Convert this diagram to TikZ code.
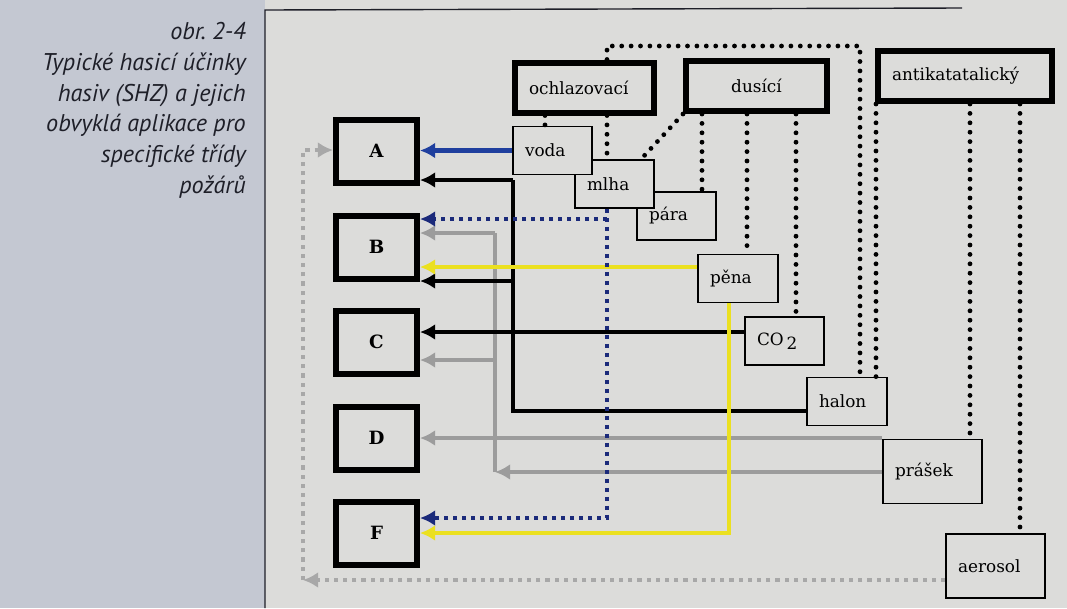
\documentclass[tikz,border=0pt]{standalone}
\usepackage{fontspec}
\setmainfont{DejaVu Serif}
\newfontfamily\capfont{PT Sans}
\usepackage{xcolor}
\usetikzlibrary{arrows.meta,positioning}
\definecolor{paper}{HTML}{DCDCDA}
\definecolor{panel}{HTML}{C4C8D2}
\definecolor{capink}{HTML}{1E1F28}
\definecolor{waterblue}{HTML}{1F3F9E}
\definecolor{mistnavy}{HTML}{1B2A7A}
\definecolor{foamyellow}{HTML}{EBE020}
\definecolor{powdergray}{HTML}{9C9C9C}
\definecolor{aerogray}{HTML}{A8A8A8}

\begin{document}
\begin{tikzpicture}[x=0.25mm,y=-0.25mm,>={Latex[length=3.8mm,width=4mm]},
  font=\fontsize{12}{14}\selectfont,
  captext/.style={font=\capfont\itshape\fontsize{17.2}{21.9}\selectfont,align=right,inner sep=0pt,text=capink},
  classbox/.style={draw,line width=1.5mm,fill=paper,minimum width=20.25mm,minimum height=15.75mm,inner sep=0pt,font=\fontsize{13}{15}\selectfont\bfseries},
  effectbox/.style={draw,line width=1.5mm,fill=paper,minimum height=12.5mm,inner ysep=0pt,inner xsep=3.5mm,align=left,text width=#1},
  agentbox/.style={draw,line width=0.4mm,fill=paper,minimum height=12mm,inner xsep=3mm,inner ysep=0pt,align=left,text width=#1},
  agentbox/.default=13.75mm,
  dots/.style={line width=1.2mm,dash pattern=on 0pt off 2.35mm,line cap=round},
  navydot/.style={mistnavy,line width=1mm,dash pattern=on 1mm off 1.25mm},
  ltdot/.style={aerogray,line width=1mm,dash pattern=on 1.05mm off 1.25mm},
  blackline/.style={line width=1.1mm},
  blueline/.style={waterblue,line width=1.2mm},
  yelline/.style={foamyellow,line width=1mm},
  grayline/.style={powdergray,line width=1mm}]
\useasboundingbox (0,0) rectangle (1067,608);
\fill[panel] (0,0) rectangle (265,608);
\fill[paper] (265,0) rectangle (1067,608);
\draw[capink,line width=0.35mm] (265,608) -- (265,10) -- (962,8);

% caption
\node[captext,anchor=north east] (cap) at (246,22) {obr.\ 2-4\\Typické hasicí účinky\\hasiv (SHZ) a jejich\\obvyklá aplikace pro\\specifické třídy\\požárů};

% fire classes
\node[classbox] (A) at (376.5,151) {A};
\node[classbox] (B) at (376.5,247) {B};
\node[classbox] (C) at (376.5,342) {C};
\node[classbox] (D) at (376.5,438) {D};
\node[classbox] (F) at (376.5,533) {F};

% effects
\node[effectbox=27.75mm] (ochl) at (584.5,87.5) {ochlazovací};
\node[effectbox=28.25mm,align=center] (dusici) at (756.5,86) {dusící};
\node[effectbox=36.5mm] (anti) at (965,76) {antikatatalický};

% agents
\node[agentbox] (para) at (676.5,216) {pára};
\node[agentbox] (mlha) at (614.5,184) {mlha};
\node[agentbox] (voda) at (552.5,150.5) {voda};
\node[agentbox=14mm] (pena) at (738,278.5) {pěna};
\node[agentbox] (co2) at (784.5,341) {CO\,\raisebox{-0.4ex}{2}};
\node[agentbox=14mm] (halon) at (847,401.5) {halon};
\node[agentbox=18.75mm,minimum height=16mm] (prasek) at (932.5,471.5) {prášek};
\node[agentbox=18.75mm,minimum height=16mm] (aerosol) at (995.5,566) {aerosol};

% bends
\coordinate (hbar) at (513,180);
\coordinate (hB) at (513,281);
\coordinate (hlow) at (513,411);
\coordinate (cline) at (745,332);
\coordinate (mB) at (607,219);
\coordinate (mF) at (607,518);
\coordinate (pB) at (698,267);
\coordinate (pF) at (729,533);
\coordinate (gtop) at (495,233);
\coordinate (gmid) at (495,360);
\coordinate (gcorner) at (495,472);
\coordinate (atop) at (303,150);
\coordinate (acorner) at (303,580);
\coordinate (tl) at (607,46);
\coordinate (tr) at (860,46);
\coordinate (xvoda) at (545,0);
\coordinate (xmlha) at (641,0);
\coordinate (xpara) at (702,0);
\coordinate (xpena) at (747,0);
\coordinate (xco) at (796,0);
\coordinate (xhal) at (876,0);
\coordinate (xpra) at (970,0);
\coordinate (xaer) at (1020,0);

% effect links
\draw[dots] (ochl.south -| xvoda) -- (voda.north -| xvoda);
\draw[dots] (ochl.south -| tl) -- (mlha.north -| tl);
\draw[dots] (ochl.north -| tl) -- (tl) -- (tr) -- (halon.north -| tr);
\draw[dots] (dusici.south west) -- (mlha.north -| xmlha);
\draw[dots] (dusici.south -| xpara) -- (para.north -| xpara);
\draw[dots] (dusici.south -| xpena) -- (pena.north -| xpena);
\draw[dots] (dusici.south -| xco) -- (co2.north -| xco);
\draw[dots] (anti.south -| xhal) -- (halon.north -| xhal);
\draw[dots] (anti.south -| xpra) -- (prasek.north -| xpra);
\draw[dots] (anti.south -| xaer) -- (aerosol.north -| xaer);

% agent -> class
\draw[grayline] (gcorner) -- (gtop);
\draw[grayline,->] (gtop) -- (gtop -| B.east);
\draw[grayline,->] (gmid) -- (gmid -| C.east);
\draw[grayline,->] (prasek.west |- gcorner) -- (gcorner);
\draw[grayline,->] (prasek.west |- D.east) -- (D.east);
\draw[blackline] (halon.west |- hlow) -- (hlow) -- (hbar);
\draw[blackline,->] (hbar) -- (hbar -| A.east);
\draw[blackline,->] (hB) -- (hB -| B.east);
\draw[blackline,->] (co2.west |- cline) -- (cline -| C.east);
\draw[yelline,->] (pena.west |- pB) -- (pB -| B.east);
\draw[yelline,->] (pena.south -| pF) -- (pF) -- (pF -| F.east);
\draw[navydot,->] (mlha.south -| mB) -- (mF) -- (mF -| F.east);
\draw[navydot,->] (mB) -- (mB -| B.east);
\draw[blueline,->] (voda.west) -- (voda.west -| A.east);
\draw[ltdot,->] (aerosol.west |- acorner) -- (acorner);
\draw[ltdot,->] (acorner) -- (atop) -- (atop -| A.west);
\end{tikzpicture}
\end{document}
